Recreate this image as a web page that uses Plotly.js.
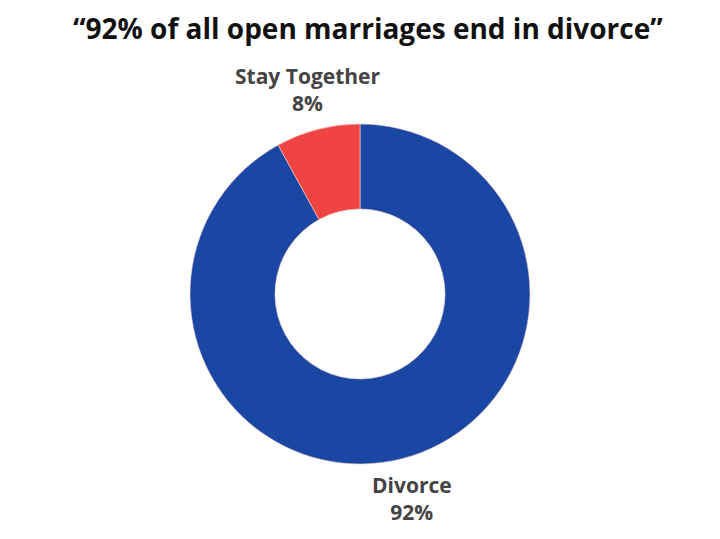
<!DOCTYPE html>
<html>
<head>
<meta charset="utf-8">
<script src="https://cdn.plot.ly/plotly-3.0.1.min.js"></script>
<style>
  body { margin: 0; background: #fff; }
  #fig { width: 720px; height: 539px; }
</style>
</head>
<body>
<div id="fig"></div>
<script>
// outcome shares (clockwise from 12 o'clock)
var outcomes = ['Divorce', 'Stay Together'];
var shares = [92, 8];
var sliceColors = ['#1a47a3', '#f04442'];

var trace = {
  type: 'pie',
  labels: outcomes,
  values: shares,
  hole: 0.5,
  sort: false,
  direction: 'clockwise',
  rotation: 0,
  marker: { colors: sliceColors, line: { width: 0.6, color: '#f4d0d0' } },
  textinfo: 'none',
  hoverinfo: 'none',
  showlegend: false
};

// labels sit outside the ring, on each slice's middle angle
var labelRadius = 1.24; // in units of the outer radius
var total = shares.reduce(function (a, b) { return a + b; }, 0);
var annotations = [];
var start = 0;
for (var i = 0; i < shares.length; i++) {
  var mid = (start + shares[i] / 2) / total * 2 * Math.PI;
  start += shares[i];
  annotations.push({
    xref: 'paper', yref: 'paper',
    x: 0.5 + 0.5 * labelRadius * Math.sin(mid),
    y: 0.5 + 0.5 * labelRadius * Math.cos(mid),
    xanchor: 'center', yanchor: 'middle',
    showarrow: false,
    text: outcomes[i] + '<br>' + Math.round(shares[i] / total * 100) + '%',
    font: { family: 'Open Sans', size: 21, color: '#444444', weight: 'bold' }
  });
}

var layout = {
  width: 720,
  height: 539,
  margin: { l: 190, r: 190, t: 124, b: 75 },
  paper_bgcolor: '#ffffff',
  title: {
    text: '\u201c92% of all open marriages end in divorce\u201d',
    font: { family: 'Open Sans', size: 28, color: '#111111', weight: 'bold' },
    x: 0.511, xanchor: 'center',
    y: 0.945, yanchor: 'middle'
  },
  annotations: annotations
};

Plotly.newPlot('fig', [trace], layout, { displayModeBar: false });
</script>
</body>
</html>
